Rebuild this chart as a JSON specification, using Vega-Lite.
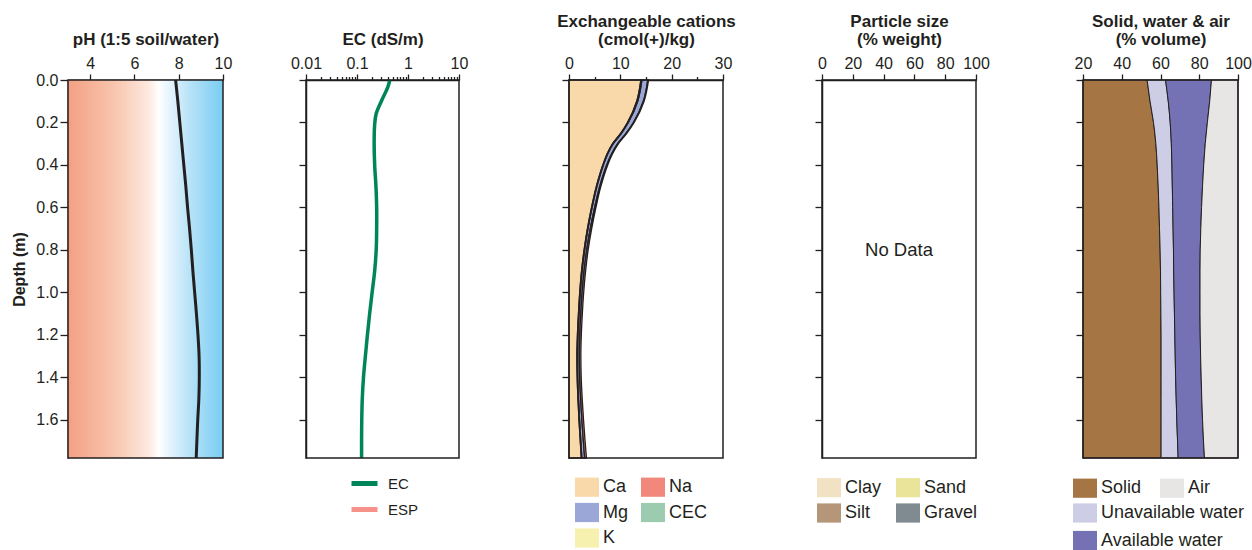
{
  "$schema": "https://vega.github.io/schema/vega-lite/v6.json",
  "background": "white",
  "padding": {"left": 11, "top": 12, "right": 0, "bottom": 0},
  "spacing": 0,
  "bounds": "flush",
  "config": {
    "view": {"stroke": null},
    "font": "Liberation Sans",
    "axis": {
      "domainColor": "#231f20", "domainWidth": 1.5, "tickColor": "#231f20", "tickWidth": 1.3,
      "labelColor": "#231f20", "titleColor": "#231f20", "labelFont": "Liberation Sans", "titleFont": "Liberation Sans",
      "labelFontSize": 16, "titleFontSize": 17, "titleFontWeight": "bold", "grid": false,
      "labelOverlap": false, "labelFlush": false
    },
    "axisX": {"labelPadding": 3, "titlePadding": 7, "titleLineHeight": 18},
    "axisY": {"labelPadding": 2, "titlePadding": 8},
    "legend": {
      "labelFont": "Liberation Sans", "labelFontSize": 18, "labelColor": "#231f20", "padding": 0,
      "symbolType": "M-1,-0.8H1V0.8H-1Z", "symbolSize": 576, "symbolStrokeWidth": 0, "labelOffset": 4,
      "rowPadding": 3.5, "symbolOpacity": 1
    }
  },
  "resolve": {
    "scale": {"x": "independent", "y": "independent", "color": "independent", "fill": "independent"},
    "axis": {"x": "independent", "y": "independent"},
    "legend": {"color": "independent", "fill": "independent"}
  },
  "hconcat": [
    {
      "width": 155, "height": 378,
      "layer": [
        {
          "data": {"values": [{}]},
          "mark": {"type": "rect", "fill": {"gradient": "linear", "x1": 0, "y1": 0, "x2": 1, "y2": 0, "stops": [
            {"offset": 0, "color": "#f3a083"}, {"offset": 0.3, "color": "#f8c5ae"}, {"offset": 0.52, "color": "#fde9df"},
            {"offset": 0.585, "color": "#ffffff"}, {"offset": 0.62, "color": "#f1f9fe"}, {"offset": 0.8, "color": "#b3e1f7"},
            {"offset": 1, "color": "#78cdf2"}]}},
          "encoding": {"x": {"datum": 3, "type": "quantitative"}, "x2": {"datum": 10}, "y": {"datum": 0, "type": "quantitative"}, "y2": {"datum": 1.78}}
        },
        {
          "data": {"values": [
            {"depth": 0, "pH": 7.86}, {"depth": 0.1, "pH": 7.96}, {"depth": 0.2, "pH": 8.05}, {"depth": 0.3, "pH": 8.14},
            {"depth": 0.4, "pH": 8.23}, {"depth": 0.5, "pH": 8.32}, {"depth": 0.6, "pH": 8.40}, {"depth": 0.7, "pH": 8.49},
            {"depth": 0.8, "pH": 8.57}, {"depth": 0.9, "pH": 8.64}, {"depth": 1.0, "pH": 8.72}, {"depth": 1.1, "pH": 8.80},
            {"depth": 1.2, "pH": 8.87}, {"depth": 1.3, "pH": 8.92}, {"depth": 1.4, "pH": 8.93}, {"depth": 1.5, "pH": 8.91},
            {"depth": 1.6, "pH": 8.86}, {"depth": 1.7, "pH": 8.82}, {"depth": 1.78, "pH": 8.79}]},
          "mark": {"type": "line", "color": "#231f20", "strokeWidth": 3, "interpolate": "catmull-rom"},
          "encoding": {"x": {"field": "pH", "type": "quantitative"}, "y": {"field": "depth", "type": "quantitative"}, "order": {"field": "depth", "type": "quantitative"}}
        },
        {
          "data": {"values": [{}]},
          "mark": {"type": "rect", "filled": false, "color": "#231f20", "strokeWidth": 1.5},
          "encoding": {
            "x": {"datum": 3, "type": "quantitative", "scale": {"domain": [3, 10], "nice": false, "zero": false},
              "axis": {"orient": "top", "title": "pH (1:5 soil/water)", "values": [4, 5, 6, 7, 8, 9, 10],
                "labelExpr": "datum.value % 2 == 0 ? datum.label : ''",
                "tickSize": {"condition": {"test": "datum.value % 2 == 0", "value": 6}, "value": 3.5}}},
            "x2": {"datum": 10},
            "y": {"datum": 0, "type": "quantitative", "scale": {"domain": [0, 1.78], "reverse": true, "nice": false, "zero": false},
              "axis": {"orient": "left", "title": "Depth (m)", "titleFontSize": 16, "format": ".1f",
                "values": [0, 0.1, 0.2, 0.3, 0.4, 0.5, 0.6, 0.7, 0.8, 0.9, 1.0, 1.1, 1.2, 1.3, 1.4, 1.5, 1.6, 1.7],
                "labelExpr": "round(datum.value * 10) % 2 == 0 ? datum.label : ''",
                "tickSize": {"condition": {"test": "round(datum.value * 10) % 2 == 0", "value": 8}, "value": 4}}},
            "y2": {"datum": 1.78}
          }
        }
      ]
    },
    {
      "width": 236, "height": 378,
      "layer": [
        {
          "data": {"values": [
            {"depth": 0, "EC": 0.44}, {"depth": 0.035, "EC": 0.40}, {"depth": 0.1, "EC": 0.30}, {"depth": 0.16, "EC": 0.237},
            {"depth": 0.21, "EC": 0.222}, {"depth": 0.3, "EC": 0.217}, {"depth": 0.4, "EC": 0.222}, {"depth": 0.5, "EC": 0.235},
            {"depth": 0.6, "EC": 0.243}, {"depth": 0.7, "EC": 0.243}, {"depth": 0.8, "EC": 0.238}, {"depth": 0.9, "EC": 0.222},
            {"depth": 1.0, "EC": 0.198}, {"depth": 1.1, "EC": 0.177}, {"depth": 1.2, "EC": 0.16}, {"depth": 1.3, "EC": 0.146},
            {"depth": 1.4, "EC": 0.134}, {"depth": 1.5, "EC": 0.127}, {"depth": 1.6, "EC": 0.124}, {"depth": 1.7, "EC": 0.123},
            {"depth": 1.78, "EC": 0.123}]},
          "mark": {"type": "line", "strokeWidth": 3.5, "interpolate": "catmull-rom"},
          "encoding": {
            "x": {"field": "EC", "type": "quantitative"},
            "y": {"field": "depth", "type": "quantitative"},
            "order": {"field": "depth", "type": "quantitative"},
            "color": {"datum": "EC", "scale": {"domain": ["EC", "ESP"], "range": ["#00845a", "#f7928a"]},
              "legend": {"orient": "none", "legendX": 126, "legendY": 388, "title": null, "symbolType": "stroke",
                "symbolSize": 676, "symbolStrokeWidth": 5, "labelFontSize": 15, "labelOffset": 8, "rowPadding": 0}}
          }
        },
        {
          "data": {"values": [{}]},
          "mark": {"type": "rect", "filled": false, "color": "#231f20", "strokeWidth": 1.5},
          "encoding": {
            "x": {"datum": 0.01, "type": "quantitative", "scale": {"type": "log", "domain": [0.01, 10], "range": [83, 236], "nice": false},
              "axis": {"orient": "top", "title": "EC (dS/m)", "format": "~g",
                "values": [0.01, 0.02, 0.03, 0.04, 0.05, 0.06, 0.07, 0.08, 0.09, 0.1, 0.2, 0.3, 0.4, 0.5, 0.6, 0.7, 0.8, 0.9, 1, 2, 3, 4, 5, 6, 7, 8, 9, 10],
                "labelExpr": "indexof([0.01, 0.1, 1, 10], datum.value) >= 0 ? datum.label : ''",
                "tickSize": {"condition": {"test": "indexof([0.01, 0.1, 1, 10], datum.value) >= 0", "value": 6}, "value": 3.5}}},
            "x2": {"datum": 10},
            "y": {"datum": 0, "type": "quantitative", "scale": {"domain": [0, 1.78], "reverse": true, "nice": false, "zero": false},
              "axis": {"orient": "left", "offset": -83, "labels": false, "title": null,
                "values": [0, 0.1, 0.2, 0.3, 0.4, 0.5, 0.6, 0.7, 0.8, 0.9, 1.0, 1.1, 1.2, 1.3, 1.4, 1.5, 1.6, 1.7],
                "tickSize": {"condition": {"test": "round(datum.value * 10) % 2 == 0", "value": 7}, "value": 3.5}}},
            "y2": {"datum": 1.78}
          }
        }
      ]
    },
    {
      "width": 264, "height": 378,
      "layer": [
        {
          "data": {"values": [
            {"depth": 0, "Ca": 14.0, "Mg": 1.15, "K": 0.2, "Na": 0.15},
            {"depth": 0.1, "Ca": 13.2, "Mg": 1.1, "K": 0.18, "Na": 0.15},
            {"depth": 0.2, "Ca": 11.4, "Mg": 1.0, "K": 0.15, "Na": 0.15},
            {"depth": 0.25, "Ca": 10.1, "Mg": 0.9, "K": 0.14, "Na": 0.16},
            {"depth": 0.3, "Ca": 8.5, "Mg": 0.85, "K": 0.12, "Na": 0.17},
            {"depth": 0.35, "Ca": 7.4, "Mg": 0.75, "K": 0.11, "Na": 0.18},
            {"depth": 0.4, "Ca": 6.6, "Mg": 0.65, "K": 0.1, "Na": 0.2},
            {"depth": 0.5, "Ca": 5.35, "Mg": 0.55, "K": 0.1, "Na": 0.22},
            {"depth": 0.6, "Ca": 4.4, "Mg": 0.5, "K": 0.1, "Na": 0.25},
            {"depth": 0.7, "Ca": 3.6, "Mg": 0.45, "K": 0.1, "Na": 0.27},
            {"depth": 0.8, "Ca": 2.95, "Mg": 0.4, "K": 0.1, "Na": 0.28},
            {"depth": 0.9, "Ca": 2.45, "Mg": 0.38, "K": 0.1, "Na": 0.3},
            {"depth": 1.0, "Ca": 2.1, "Mg": 0.36, "K": 0.1, "Na": 0.3},
            {"depth": 1.1, "Ca": 1.85, "Mg": 0.35, "K": 0.1, "Na": 0.3},
            {"depth": 1.2, "Ca": 1.65, "Mg": 0.35, "K": 0.1, "Na": 0.3},
            {"depth": 1.3, "Ca": 1.55, "Mg": 0.36, "K": 0.1, "Na": 0.3},
            {"depth": 1.4, "Ca": 1.6, "Mg": 0.38, "K": 0.1, "Na": 0.3},
            {"depth": 1.5, "Ca": 1.75, "Mg": 0.42, "K": 0.1, "Na": 0.3},
            {"depth": 1.6, "Ca": 1.95, "Mg": 0.46, "K": 0.1, "Na": 0.32},
            {"depth": 1.7, "Ca": 2.2, "Mg": 0.5, "K": 0.1, "Na": 0.33},
            {"depth": 1.78, "Ca": 2.4, "Mg": 0.55, "K": 0.1, "Na": 0.35}]},
          "transform": [{"fold": ["Ca", "Mg", "K", "Na"], "as": ["cation", "value"]}],
          "mark": {"type": "area", "orient": "horizontal", "interpolate": "monotone", "stroke": "#231f20", "strokeWidth": 1.3},
          "encoding": {
            "x": {"field": "value", "type": "quantitative", "stack": "zero"},
            "y": {"field": "depth", "type": "quantitative"},
            "color": {"field": "cation", "type": "nominal",
              "scale": {"domain": ["Ca", "Mg", "K", "Na", "CEC"], "range": ["#f9d8a9", "#9ba7d6", "#f7f1b0", "#f2877b", "#9dcbb0"]},
              "legend": {"orient": "none", "legendX": 116, "legendY": 395, "title": null, "columns": 2, "columnPadding": 12}}
          }
        },
        {
          "data": {"values": [{}]},
          "mark": {"type": "rect", "filled": false, "color": "#231f20", "strokeWidth": 1.5},
          "encoding": {
            "x": {"datum": 0, "type": "quantitative", "scale": {"domain": [0, 30], "range": [110, 264], "nice": false, "zero": false},
              "axis": {"orient": "top", "title": ["Exchangeable cations", "(cmol(+)/kg)"],
                "values": [0, 5, 10, 15, 20, 25, 30],
                "labelExpr": "datum.value % 10 == 0 ? datum.label : ''",
                "tickSize": {"condition": {"test": "datum.value % 10 == 0", "value": 6}, "value": 3.5}}},
            "x2": {"datum": 30},
            "y": {"datum": 0, "type": "quantitative", "scale": {"domain": [0, 1.78], "reverse": true, "nice": false, "zero": false},
              "axis": {"orient": "left", "offset": -110, "labels": false, "title": null,
                "values": [0, 0.1, 0.2, 0.3, 0.4, 0.5, 0.6, 0.7, 0.8, 0.9, 1.0, 1.1, 1.2, 1.3, 1.4, 1.5, 1.6, 1.7],
                "tickSize": {"condition": {"test": "round(datum.value * 10) % 2 == 0", "value": 7}, "value": 3.5}}},
            "y2": {"datum": 1.78}
          }
        }
      ]
    },
    {
      "width": 253, "height": 378,
      "layer": [
        {
          "data": {"values": [{"fraction": "Clay"}, {"fraction": "Silt"}, {"fraction": "Sand"}, {"fraction": "Gravel"}]},
          "mark": {"type": "rect", "opacity": 0},
          "encoding": {
            "color": {"field": "fraction", "type": "nominal",
              "scale": {"domain": ["Clay", "Silt", "Sand", "Gravel"], "range": ["#f1e2c4", "#b59679", "#e9e49a", "#7f8a91"]},
              "legend": {"orient": "none", "legendX": 94, "legendY": 395.5, "title": null, "columns": 2, "columnPadding": 14}}
          }
        },
        {
          "data": {"values": [{"note": "No Data"}]},
          "mark": {"type": "text", "fontSize": 18.5, "color": "#231f20", "font": "Liberation Sans", "baseline": "middle", "align": "center"},
          "encoding": {"x": {"datum": 50, "type": "quantitative"}, "y": {"datum": 0.8, "type": "quantitative"}, "text": {"field": "note"}}
        },
        {
          "data": {"values": [{}]},
          "mark": {"type": "rect", "filled": false, "color": "#231f20", "strokeWidth": 1.5},
          "encoding": {
            "x": {"datum": 0, "type": "quantitative", "scale": {"domain": [0, 100], "range": [99, 253], "nice": false, "zero": false},
              "axis": {"orient": "top", "title": ["Particle size", "(% weight)"],
                "values": [0, 10, 20, 30, 40, 50, 60, 70, 80, 90, 100],
                "labelExpr": "datum.value % 20 == 0 ? datum.label : ''",
                "tickSize": {"condition": {"test": "datum.value % 20 == 0", "value": 6}, "value": 3.5}}},
            "x2": {"datum": 100},
            "y": {"datum": 0, "type": "quantitative", "scale": {"domain": [0, 1.78], "reverse": true, "nice": false, "zero": false},
              "axis": {"orient": "left", "offset": -99, "labels": false, "title": null,
                "values": [0, 0.1, 0.2, 0.3, 0.4, 0.5, 0.6, 0.7, 0.8, 0.9, 1.0, 1.1, 1.2, 1.3, 1.4, 1.5, 1.6, 1.7],
                "tickSize": {"condition": {"test": "round(datum.value * 10) % 2 == 0", "value": 7}, "value": 3.5}}},
            "y2": {"datum": 1.78}
          }
        }
      ]
    },
    {
      "width": 262, "height": 378,
      "data": {"values": [
        {"depth": 0, "solid": 53.1, "unavail": 62.6, "avail": 86.3},
        {"depth": 0.1, "solid": 54.6, "unavail": 64.0, "avail": 85.4},
        {"depth": 0.2, "solid": 56.4, "unavail": 65.0, "avail": 84.2},
        {"depth": 0.3, "solid": 57.6, "unavail": 65.6, "avail": 83.1},
        {"depth": 0.4, "solid": 58.3, "unavail": 65.9, "avail": 82.3},
        {"depth": 0.5, "solid": 58.8, "unavail": 66.1, "avail": 81.7},
        {"depth": 0.6, "solid": 59.2, "unavail": 66.3, "avail": 81.2},
        {"depth": 0.7, "solid": 59.5, "unavail": 66.5, "avail": 80.8},
        {"depth": 0.8, "solid": 59.8, "unavail": 66.7, "avail": 80.5},
        {"depth": 0.9, "solid": 60.0, "unavail": 66.8, "avail": 80.4},
        {"depth": 1.0, "solid": 60.1, "unavail": 67.0, "avail": 80.4},
        {"depth": 1.1, "solid": 60.2, "unavail": 67.2, "avail": 80.4},
        {"depth": 1.2, "solid": 60.3, "unavail": 67.4, "avail": 80.5},
        {"depth": 1.3, "solid": 60.3, "unavail": 67.6, "avail": 80.7},
        {"depth": 1.4, "solid": 60.3, "unavail": 67.8, "avail": 81.0},
        {"depth": 1.5, "solid": 60.3, "unavail": 68.1, "avail": 81.3},
        {"depth": 1.6, "solid": 60.3, "unavail": 68.4, "avail": 81.7},
        {"depth": 1.7, "solid": 60.3, "unavail": 68.8, "avail": 82.2},
        {"depth": 1.78, "solid": 60.3, "unavail": 69.1, "avail": 82.7}]},
      "layer": [
        {
          "mark": {"type": "area", "orient": "horizontal", "interpolate": "monotone", "stroke": "#231f20", "strokeWidth": 1},
          "encoding": {
            "x": {"field": "solid", "type": "quantitative"}, "x2": {"datum": 20},
            "y": {"field": "depth", "type": "quantitative"},
            "fill": {"datum": "Solid", "scale": {"domain": ["Solid", "Air"], "range": ["#a57643", "#e8e5e5"]},
              "legend": {"orient": "none", "legendX": 97, "legendY": 396, "title": null, "columns": 2, "columnPadding": 18}}
          }
        },
        {
          "mark": {"type": "area", "orient": "horizontal", "interpolate": "monotone", "stroke": "#231f20", "strokeWidth": 1},
          "encoding": {
            "x": {"field": "solid", "type": "quantitative"}, "x2": {"field": "unavail"},
            "y": {"field": "depth", "type": "quantitative"},
            "color": {"datum": "Unavailable water", "scale": {"domain": ["Unavailable water", "Available water"], "range": ["#cdcee6", "#7472b4"]},
              "legend": {"orient": "none", "legendX": 97, "legendY": 421, "title": null, "rowPadding": 5.5}}
          }
        },
        {
          "mark": {"type": "area", "orient": "horizontal", "interpolate": "monotone", "stroke": "#231f20", "strokeWidth": 1},
          "encoding": {
            "x": {"field": "unavail", "type": "quantitative"}, "x2": {"field": "avail"},
            "y": {"field": "depth", "type": "quantitative"},
            "color": {"datum": "Available water"}
          }
        },
        {
          "mark": {"type": "area", "orient": "horizontal", "interpolate": "monotone", "stroke": "#231f20", "strokeWidth": 1},
          "encoding": {
            "x": {"field": "avail", "type": "quantitative"}, "x2": {"datum": 100},
            "y": {"field": "depth", "type": "quantitative"},
            "fill": {"datum": "Air"}
          }
        },
        {
          "data": {"values": [{}]},
          "mark": {"type": "rect", "filled": false, "color": "#231f20", "strokeWidth": 1.5},
          "encoding": {
            "x": {"datum": 20, "type": "quantitative", "scale": {"domain": [20, 100], "range": [107, 262], "nice": false, "zero": false},
              "axis": {"orient": "top", "title": ["Solid, water & air", "(% volume)"],
                "values": [20, 30, 40, 50, 60, 70, 80, 90, 100],
                "labelExpr": "datum.value % 20 == 0 ? datum.label : ''",
                "tickSize": {"condition": {"test": "datum.value % 20 == 0", "value": 6}, "value": 3.5}}},
            "x2": {"datum": 100},
            "y": {"datum": 0, "type": "quantitative", "scale": {"domain": [0, 1.78], "reverse": true, "nice": false, "zero": false},
              "axis": {"orient": "left", "offset": -107, "labels": false, "title": null,
                "values": [0, 0.1, 0.2, 0.3, 0.4, 0.5, 0.6, 0.7, 0.8, 0.9, 1.0, 1.1, 1.2, 1.3, 1.4, 1.5, 1.6, 1.7],
                "tickSize": {"condition": {"test": "round(datum.value * 10) % 2 == 0", "value": 7}, "value": 3.5}}},
            "y2": {"datum": 1.78}
          }
        }
      ]
    }
  ]
}
